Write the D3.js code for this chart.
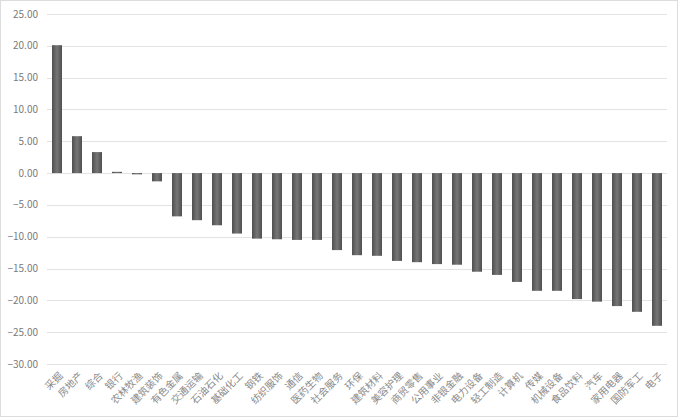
<!DOCTYPE html>
<meta charset="utf-8">
<style>
body { margin: 0; background: #fff; }
.grid line { stroke: #e3e3e3; stroke-width: 1px; }
.ylab text { fill: #7a7a7a; font-family: "Noto Sans CJK SC", "DejaVu Sans", sans-serif; }
.xlab text { fill: #8a8a8a; font-family: "Noto Sans CJK SC", "DejaVu Sans", sans-serif; }
</style>
<svg width="678" height="417"></svg>
<script src="https://d3js.org/d3.v7.min.js"></script>
<script>

var industries = ["采掘", "房地产", "综合", "银行", "农林牧渔", "建筑装饰", "有色金属", "交通运输",
  "石油石化", "基础化工", "钢铁", "纺织服饰", "通信", "医药生物", "社会服务", "环保", "建筑材料",
  "美容护理", "商贸零售", "公用事业", "非银金融", "电力设备", "轻工制造", "计算机", "传媒",
  "机械设备", "食品饮料", "汽车", "家用电器", "国防军工", "电子"];

var changes = [20.1, 5.8, 3.3, 0.2, -0.2, -1.3, -6.8, -7.4,
  -8.2, -9.5, -10.3, -10.4, -10.5, -10.5, -12.1, -12.9, -13.0,
  -13.8, -14.0, -14.3, -14.4, -15.5, -16.0, -17.1, -18.5,
  -18.5, -19.8, -20.2, -20.9, -21.8, -24.0];

var yTicks = [25, 20, 15, 10, 5, 0, -5, -10, -15, -20, -25, -30];

var svg = d3.select("svg"),
    width = +svg.attr("width"),
    height = +svg.attr("height");

// faint frame round the picture
svg.append("rect")
    .attr("x", 0.5).attr("y", 0.5)
    .attr("width", width - 1).attr("height", height - 1)
    .attr("fill", "none")
    .attr("stroke", "#dcdcdc");

var x = d3.scaleBand()
    .domain(industries)
    .range([47, 667])
    .paddingInner(0.5)
    .paddingOuter(0.25);

var y = d3.scaleLinear()
    .domain([-30, 25])
    .range([364, 14]);

var grad = svg.append("defs").append("linearGradient")
    .attr("id", "barGrad")
    .attr("x1", "0%").attr("x2", "100%").attr("y1", "0%").attr("y2", "0%");
grad.append("stop").attr("offset", "0%").attr("stop-color", "#4f4f4f");
grad.append("stop").attr("offset", "50%").attr("stop-color", "#767676");
grad.append("stop").attr("offset", "100%").attr("stop-color", "#4f4f4f");

svg.append("g")
    .attr("class", "grid")
  .selectAll("line")
  .data(yTicks)
  .enter().append("line")
    .attr("x1", 47).attr("x2", 667)
    .attr("y1", function(d) { return Math.round(y(d)) + 0.5; })
    .attr("y2", function(d) { return Math.round(y(d)) + 0.5; });

svg.append("g")
    .attr("class", "ylab")
  .selectAll("text")
  .data(yTicks)
  .enter().append("text")
    .attr("x", 38)
    .attr("y", function(d) { return y(d); })
    .attr("dy", "0.35em")
    .attr("text-anchor", "end")
    .style("font-size", "10px")
    .text(function(d) { return d3.format(".2f")(d); });

svg.append("g")
  .selectAll("rect")
  .data(industries)
  .enter().append("rect")
    .attr("x", function(d) { return x(d); })
    .attr("width", x.bandwidth())
    .attr("y", function(d, i) { return y(Math.max(0, changes[i])); })
    .attr("height", function(d, i) { return Math.abs(y(changes[i]) - y(0)); })
    .attr("fill", "url(#barGrad)");

svg.append("g")
    .attr("class", "xlab")
  .selectAll("text")
  .data(industries)
  .enter().append("text")
    .attr("transform", function(d) {
      return "translate(" + (x(d) + x.bandwidth() / 2 + 4) + ",374) rotate(-45)";
    })
    .attr("text-anchor", "end")
    .attr("dy", "0.35em")
    .style("font-size", "10px")
    .text(function(d) { return d; });

</script>
